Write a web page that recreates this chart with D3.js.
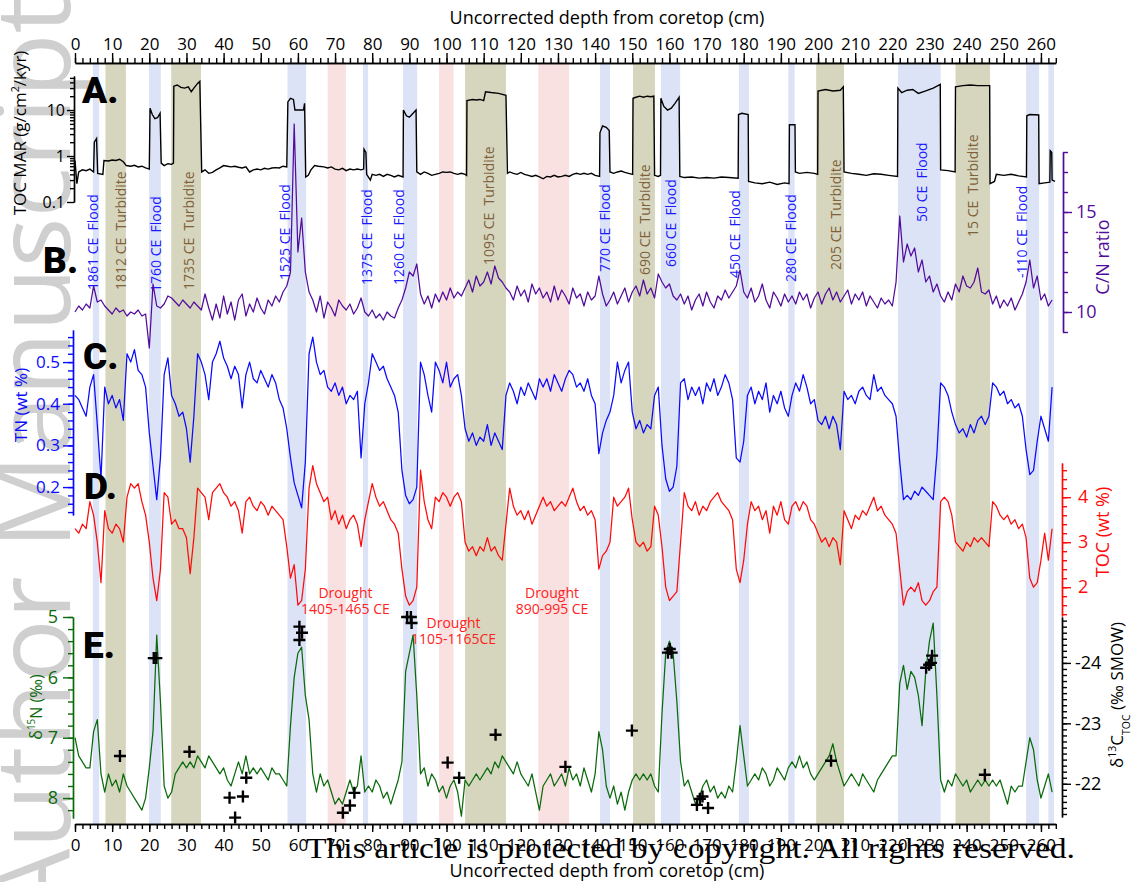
<!DOCTYPE html>
<html>
<head>
<meta charset="UTF-8">
<style>
  body { margin: 0; background: #fff; }
  svg { display: block; font-family: "Open Sans", sans-serif; }
</style>
</head>
<body>
<svg></svg>
<script src="https://d3js.org/d3.v7.min.js"></script>
<script>
// ---- data (depth in cm from core top) ----
// sampling grid for the down-core series, 1 cm steps 0..263
let depth = d3.range(0, 264);

let tn = [
  0.42,0.41,0.39,0.37,0.44,0.47,0.35,0.22,0.44,0.40,
  0.42,0.39,0.41,0.36,0.52,0.50,0.53,0.48,0.47,0.44,
  0.33,0.25,0.17,0.27,0.47,0.51,0.42,0.40,0.37,0.38,
  0.34,0.26,0.37,0.52,0.50,0.47,0.41,0.50,0.52,0.55,
  0.51,0.49,0.46,0.49,0.47,0.39,0.47,0.50,0.46,0.45,
  0.48,0.46,0.44,0.47,0.45,0.41,0.39,0.34,0.27,0.21,
  0.18,0.15,0.26,0.52,0.56,0.50,0.47,0.48,0.44,0.43,
  0.45,0.42,0.44,0.40,0.42,0.41,0.43,0.27,0.40,0.45,
  0.52,0.50,0.48,0.49,0.46,0.44,0.42,0.38,0.24,0.18,
  0.16,0.17,0.20,0.50,0.47,0.42,0.38,0.50,0.48,0.45,
  0.50,0.44,0.46,0.47,0.42,0.34,0.31,0.33,0.30,0.32,
  0.31,0.35,0.30,0.33,0.31,0.29,0.42,0.45,0.43,0.40,
  0.44,0.42,0.45,0.43,0.41,0.46,0.44,0.46,0.43,0.47,
  0.45,0.43,0.46,0.48,0.47,0.44,0.45,0.43,0.46,0.42,
  0.40,0.28,0.33,0.36,0.38,0.42,0.50,0.45,0.48,0.50,
  0.38,0.34,0.36,0.33,0.35,0.34,0.42,0.44,0.30,0.22,
  0.19,0.20,0.25,0.45,0.46,0.41,0.44,0.42,0.44,0.40,
  0.45,0.43,0.46,0.42,0.44,0.47,0.45,0.41,0.27,0.26,
  0.31,0.42,0.44,0.40,0.43,0.41,0.45,0.38,0.42,0.40,
  0.43,0.39,0.37,0.42,0.45,0.43,0.47,0.44,0.40,0.41,
  0.36,0.35,0.37,0.34,0.37,0.35,0.29,0.43,0.41,0.42,
  0.40,0.43,0.44,0.42,0.41,0.47,0.43,0.44,0.42,0.41,
  0.40,0.37,0.26,0.17,0.18,0.17,0.19,0.18,0.20,0.19,
  0.18,0.17,0.28,0.45,0.44,0.42,0.38,0.35,0.33,0.34,
  0.32,0.35,0.33,0.36,0.37,0.35,0.37,0.45,0.44,0.42,
  0.43,0.40,0.41,0.39,0.40,0.37,0.29,0.23,0.24,0.31,
  0.37,0.34,0.31,0.44
];

let toc = [
  3.3,3.2,3.4,3.3,3.9,3.6,3.0,2.1,3.7,3.3,
  3.2,3.4,3.3,3.0,4.0,4.3,4.2,4.3,3.9,3.6,
  3.0,2.2,1.7,2.4,4.1,4.0,3.4,3.5,3.3,3.3,
  3.1,2.3,3.1,4.2,4.1,4.0,3.5,4.1,4.2,4.3,
  4.1,4.0,3.8,3.9,3.7,3.2,3.9,4.0,3.8,3.7,
  3.9,3.8,3.6,3.8,3.7,3.6,3.5,2.9,2.2,2.5,
  1.6,1.7,2.4,4.2,4.7,4.3,4.1,3.9,4.0,3.5,
  3.7,3.4,3.6,3.3,3.5,3.6,3.4,2.9,3.5,3.9,
  4.3,4.0,3.8,3.9,3.7,3.5,3.4,3.2,2.4,1.8,
  1.6,1.7,2.0,4.6,3.9,3.5,3.3,4.0,3.9,4.1,
  4.0,3.8,4.0,4.1,3.9,3.0,2.8,2.9,2.7,2.9,
  2.8,3.1,2.8,2.9,2.7,2.6,3.4,4.2,3.8,3.6,
  3.7,3.5,3.7,3.4,3.6,3.8,4.0,3.8,3.9,3.7,
  3.8,3.9,3.8,4.0,4.2,3.9,3.7,3.8,3.6,3.7,
  3.5,2.4,2.7,2.8,3.0,4.0,3.8,3.9,4.0,4.2,
  3.5,3.0,2.9,3.0,2.8,2.9,3.8,3.6,2.9,2.0,
  1.7,1.8,1.9,3.0,4.1,3.8,3.7,3.9,3.6,3.8,
  3.7,3.9,4.0,4.1,3.9,3.8,3.7,3.5,2.4,2.1,
  2.6,3.4,3.9,3.7,3.8,3.5,3.7,3.2,3.8,3.6,
  3.9,3.5,3.4,3.8,3.9,3.7,3.9,3.8,3.5,3.4,
  3.2,3.0,3.1,2.9,3.1,3.0,2.5,3.7,3.5,3.3,
  3.6,3.5,3.7,3.6,3.8,4.0,3.7,3.8,3.6,3.5,
  3.4,3.2,2.4,1.6,1.9,2.0,1.9,2.1,1.7,1.6,
  1.7,1.9,2.0,3.9,4.0,3.9,3.6,3.0,2.9,2.8,
  3.0,2.9,3.1,3.0,3.1,3.0,2.9,3.9,3.8,3.6,
  3.5,3.6,3.4,3.5,3.3,3.4,3.1,2.2,2.0,2.1,
  2.6,3.2,2.6,3.3
];

let cn = [
  10.0,10.3,10.1,10.4,10.2,11.3,10.5,10.6,10.3,10.1,
  9.9,10.2,10.0,10.1,9.8,10.0,9.9,10.1,9.8,9.9,
  8.2,11.4,10.3,10.2,10.4,10.8,10.7,10.5,10.3,10.6,
  10.4,10.2,10.5,10.3,10.1,10.9,10.2,9.6,10.4,9.7,
  10.8,9.9,10.5,9.6,10.6,10.9,9.8,10.4,10.0,10.7,
  10.2,9.9,10.6,10.3,10.8,10.5,11.0,11.3,12.0,19.4,
  13.0,14.7,12.0,11.0,10.6,10.0,10.8,9.7,10.5,10.2,
  9.8,10.6,10.3,10.1,10.4,9.9,10.2,10.7,10.0,9.8,
  10.1,9.7,9.9,9.6,10.0,9.8,9.7,10.2,10.6,11.2,
  12.0,11.8,12.4,10.9,10.4,10.8,10.2,10.9,10.5,11.0,
  10.6,11.2,10.7,11.0,10.8,11.2,11.6,11.0,11.8,11.3,
  11.5,12.0,11.4,12.3,11.7,11.5,11.2,11.0,10.6,11.3,
  10.8,11.1,10.5,11.4,10.9,11.2,10.7,11.0,10.5,11.3,
  10.6,11.1,10.8,10.4,11.2,10.7,10.9,10.3,11.0,10.6,
  10.8,11.8,10.9,10.3,10.6,11.0,10.4,10.8,11.2,10.5,
  11.0,11.3,10.8,11.6,10.9,11.2,10.7,11.9,11.5,11.2,
  11.4,10.8,10.6,10.9,10.4,10.8,10.1,10.6,10.9,10.3,
  11.0,10.5,10.2,10.8,10.6,11.1,10.7,11.0,11.3,12.1,
  11.0,10.7,11.2,10.5,10.8,11.4,10.6,10.2,11.0,10.7,
  10.3,10.9,10.5,10.8,10.4,11.0,10.6,10.9,10.2,10.7,
  11.0,10.4,10.9,11.2,10.6,11.0,10.5,10.8,11.1,10.4,
  10.9,10.6,11.0,10.3,10.8,10.5,10.2,10.7,10.4,10.6,
  10.3,11.5,14.8,12.5,13.4,12.8,13.2,12.0,12.6,11.5,
  11.8,11.0,11.4,10.8,10.5,11.0,10.6,11.4,11.0,11.8,
  11.3,11.2,11.5,12.2,11.0,10.9,11.1,10.4,10.8,10.2,
  10.6,10.3,10.7,10.1,10.5,10.9,11.5,12.6,11.2,11.8,
  10.6,10.9,10.3,10.6
];

let d15n = [
  7.0,7.3,7.4,7.5,7.5,6.9,6.7,7.6,7.9,7.6,
  7.8,7.7,7.9,7.6,7.8,7.9,8.0,8.1,8.2,8.0,
  7.5,6.9,5.3,6.4,7.8,8.0,7.9,7.6,7.5,7.4,
  7.5,7.4,7.5,7.3,7.4,7.5,7.3,7.4,7.5,7.6,
  7.5,7.7,7.8,7.6,7.4,7.6,7.3,7.6,7.5,7.6,
  7.5,7.6,7.7,7.5,7.6,7.6,7.7,7.8,6.8,6.0,
  5.6,5.5,6.3,6.7,7.6,7.9,7.6,7.8,7.7,7.9,
  8.1,8.0,8.1,7.9,7.7,7.9,7.8,7.3,7.9,7.8,
  7.9,7.7,7.8,8.0,7.9,8.1,7.9,7.7,7.4,5.9,
  5.6,5.3,6.3,7.6,7.5,7.8,7.6,7.7,7.9,7.8,
  8.0,7.8,7.7,7.9,8.3,7.7,7.8,7.7,7.6,7.7,
  7.6,7.5,7.6,7.4,7.5,7.3,7.4,7.5,7.6,7.4,
  7.6,7.7,7.8,7.6,7.9,8.2,7.8,7.7,7.6,7.8,
  7.7,7.6,7.8,7.5,7.7,7.6,7.8,7.5,7.7,7.9,
  7.6,6.9,7.2,7.8,8.0,7.8,8.1,7.9,8.2,7.9,
  7.7,7.6,7.7,7.6,7.7,7.6,7.8,7.9,6.6,5.6,
  5.4,5.6,6.4,7.4,7.8,7.7,7.9,8.1,8.0,7.8,
  7.7,7.9,7.8,8.0,7.9,8.0,7.8,7.9,7.4,6.8,
  7.3,7.8,7.7,7.6,7.7,7.5,7.6,7.8,7.7,7.5,
  7.6,7.7,7.5,7.4,7.5,7.3,7.5,7.4,7.6,7.7,
  7.6,7.5,7.4,7.3,7.1,7.4,7.6,7.8,7.7,7.6,
  7.7,7.8,7.6,7.7,7.8,7.9,7.7,7.6,7.5,7.4,
  7.3,7.3,6.1,5.8,6.2,5.9,6.0,6.3,6.8,5.9,
  5.4,5.1,6.3,7.7,7.9,7.7,7.8,7.6,7.7,7.8,
  7.7,7.9,7.8,7.7,7.8,7.7,7.8,7.7,7.8,7.7,
  7.9,8.1,7.8,7.9,7.8,7.8,7.4,7.0,7.2,7.7,
  8.0,7.8,7.6,7.9
];

// TOC mass accumulation rate (step record, depth / value pairs)
let marDepth = [0,0.5,1,2,3,4,5,5.2,5.8,6.1,7.5,7.8,9,10,11,12,13,13.8,15,16,17,18,19,20,20.2,20.8,21.5,22.2,22.9,23.2,
  24,25,26,26.5,26.6,27.5,28.5,29.5,30.5,31.3,32,33,33.6,34.1,35,36,37,38,39,40,41,42,43,44,45,46,47,48,49,50,
  51,52,53,54,55,56,57,57.3,58,58.8,59.2,60.5,61.5,61.8,62.1,62.8,63.5,64.5,65.5,67,68,69,70,71,72,73,74,75,76,77,
  77.7,77.8,78.3,78.5,79.5,80,81,82,83,84,85,86,87,88.3,88.4,89.2,90,91,91.8,92,93,94,95,96,97,98,99,100,101,102,
  103,104,105,105.4,105.5,107,108,109,110,110.5,112,114,116,116.4,117,118,119,120,121,122,123,124,125,126,127,128,129,130,
  131,132,133,134,135,136,137,138,139,140,141.2,141.3,142,143,143.8,144,145,146,147,148,149,150.1,150.2,151,152,153,154,155,
  155.8,156,157,157.6,157.7,158.5,159.5,160.5,161.5,162.6,162.8,164,166,168,170,172,174,176,178.5,178.6,179.5,181.2,181.3,183,
  185,187,189,191,192.2,192.3,193.8,193.9,195,197,199,199.9,200,202,204,206,206.8,207,209,211,213,215,217,219,221.4,221.5,
  222.5,224,225.5,227,229,231,232.9,233,235,236.9,237,239,241,243,246.2,246.3,247.5,248,250,252,254,256.1,256.2,257,259.4,259.5,
  261,262.4,262.5,262.9,263,263.8];
let marValue = [0.8,0.25,0.45,0.5,0.48,0.52,0.45,2.0,2.4,0.42,0.4,0.8,0.78,0.82,0.8,0.85,0.75,0.62,0.6,0.63,0.58,0.6,0.55,0.52,11,8,6.5,6.8,8.5,0.7,
  0.62,0.68,0.66,0.7,33,35,31,30,32,25,30,38,42,0.45,0.5,0.42,0.44,0.5,0.55,0.62,0.6,0.58,0.6,0.57,0.55,0.58,0.45,0.5,0.52,0.5,
  0.54,0.52,0.55,0.56,0.55,0.6,0.58,15,18,17,10,10,10,14,0.35,0.38,0.5,0.62,0.6,0.58,0.55,0.58,0.52,0.5,0.54,0.48,0.52,0.5,0.52,0.5,
  0.52,1.4,1.2,0.4,0.3,0.4,0.38,0.4,0.36,0.4,0.38,0.35,0.38,0.35,10,7.5,7,8.5,10,0.45,0.4,0.45,0.42,0.38,0.4,0.42,0.45,0.44,0.45,0.42,
  0.4,0.42,0.4,0.38,16,17,16.5,17,16,25,24,23,21,0.42,0.45,0.42,0.4,0.44,0.4,0.38,0.36,0.38,0.35,0.32,0.36,0.35,0.38,0.35,
  0.36,0.38,0.36,0.4,0.42,0.4,0.42,0.4,0.42,0.38,0.36,3.2,4.5,4.2,3.6,0.45,0.42,0.45,0.47,0.44,0.42,0.4,18,19,20,19,20,19.5,
  20,0.38,0.36,0.38,18,12,10,11,14,19,0.36,0.34,0.35,0.33,0.34,0.33,0.35,0.34,0.33,8,8.5,8,0.28,0.26,
  0.25,0.27,0.24,0.26,0.25,4.8,4.8,0.45,0.42,0.44,0.42,0.4,26,28,26,27,32,0.45,0.42,0.4,0.38,0.41,0.4,0.38,0.36,30,
  24,27,28,23,26,30,36,0.5,0.48,0.45,32,34,35,34,34,0.25,0.28,0.4,0.38,0.4,0.37,0.35,7.5,8,7.8,0.25,
  0.26,0.27,1.3,1.2,0.3,0.28];

// discrete d13C(TOC) measurements
let crossDepth = [12.1,21.2,21.9,30.8,41.6,43.1,45.2,46.1,60.4,60.4,61.1,72.1,74.0,75.2,89.4,90.4,90.6,100.3,103.4,113.2,
  132.0,149.9,159.6,160.1,160.6,167.4,168.2,168.9,170.4,203.5,229.1,229.9,230.4,230.7,244.9];
let crossC13 = [-22.46,-24.08,-24.08,-22.53,-21.77,-21.44,-21.79,-22.10,-24.38,-24.60,-24.50,-21.52,-21.64,-21.85,-24.76,-24.76,-24.66,-22.35,-22.10,-22.81,
  -22.28,-22.88,-24.17,-24.23,-24.17,-21.65,-21.75,-21.79,-21.60,-22.38,-23.92,-23.97,-24.00,-24.12,-22.15];

// event layers [top, bottom] in cm
let floodBands = [[4.8,6.5],[19.9,23.1],[57.2,62.2],[77.5,78.9],[88.3,92.1],[141.3,144],[157.7,162.9],[178.7,181.4],[192,193.7],[221.5,233],[256,259.5],[262,263.5]];
let turbBands = [[8.2,13.7],[25.9,33.9],[105,116],[150.2,156.1],[199.5,207],[237,246.3]];
let droughtBands = [[68,72.9],[98,101.9],[124.7,133]];

let eventText = ["1861 CE  Flood","1812 CE  Turbidite","1760 CE  Flood","1735 CE  Turbidite","1525 CE  Flood","1375 CE  Flood","1260 CE  Flood",
  "1095 CE  Turbidite","770 CE  Flood","690 CE  Turbidite","660 CE  Flood","450 CE  Flood","280 CE  Flood","205 CE  Turbidite",
  "50 CE  Flood","15 CE  Turbidite","-110 CE  Flood"];
let eventKind = ["f","t","f","t","f","f","f","t","f","t","f","f","f","t","f","t","f"];
let eventDepth = [4.8,12.4,21.8,30.7,56.5,78.6,87.2,111.4,142.7,153.4,160.4,177.7,192.7,204.8,228,241.7,254.9];
let eventBase = [290,290,292,290,280,285,285,265,272,275,267,278,282,270,222,237,278];

let droughtLines = [["Drought","1405-1465 CE"],["Drought","1105-1165CE"],["Drought","890-995 CE"]];
let droughtDepth = [72.8,101.9,128.4];
let droughtBase = [598,628,598];

let depthTicks = d3.range(0, 261, 10);
let depthMinor = d3.range(0, 265, 2);

// ---- layout ----
let width = 1133, height = 882;
let svg = d3.select("svg").attr("width", width).attr("height", height);
svg.append("rect").attr("width", width).attr("height", height).attr("fill", "#fff");

let x = d3.scaleLinear().domain([0, 264]).range([75, 1055.8]);
let yMar = d3.scaleLog().domain([0.1, 55]).range([202, 76]);
let yCN = d3.scaleLinear().domain([9, 18]).range([332, 152]);
let yTN = d3.scaleLinear().domain([0.133, 0.577]).range([515, 330]);
let yTOC = d3.scaleLinear().domain([1.36, 4.76]).range([616, 463]);
let yN15 = d3.scaleLinear().domain([5, 8.33]).range([617, 818]);
let yC13 = d3.scaleLinear().domain([-24.76, -21.45]).range([617, 817]);

let purple = "#520c9c", blue = "#0a0aff", red = "#ff0a0a", green = "#0b6a0b";

// watermark
svg.append("text")
  .attr("transform", "translate(70,915) rotate(-90)")
  .attr("font-size", 105)
  .attr("fill", "#cfcfcf")
  .text("Author Manuscript");

// event bands
function bands(list, color) {
  svg.append("g").selectAll("rect").data(list).enter().append("rect")
    .attr("x", d => x(d[0]))
    .attr("width", d => x(d[1]) - x(d[0]))
    .attr("y", 62)
    .attr("height", 762)
    .attr("fill", color);
}
bands(droughtBands, "#fae1e1");
bands(floodBands, "#dde3f7");
bands(turbBands, "#d6d6bf");

// event labels
svg.append("g").selectAll("text").data(eventText).enter().append("text")
  .attr("transform", (d, i) => `translate(${x(eventDepth[i])},${eventBase[i]}) rotate(-90)`)
  .attr("dy", "0.35em")
  .attr("font-size", 14)
  .attr("fill", (d, i) => eventKind[i] == "f" ? "#1a1aff" : "#80613a")
  .style("white-space", "pre")
  .text(d => d);

droughtLines.forEach((lines, i) => {
  let t = svg.append("text")
    .attr("text-anchor", "middle")
    .attr("font-size", 14)
    .attr("fill", "#ff2222");
  lines.forEach((s, j) => {
    t.append("tspan").attr("x", x(droughtDepth[i])).attr("y", droughtBase[i] + j * 15.5).text(s);
  });
});

// series
function series(values, scale, color) {
  svg.append("path").datum(values)
    .attr("fill", "none")
    .attr("stroke", color)
    .attr("stroke-width", 1.25)
    .attr("stroke-linejoin", "round")
    .attr("d", d3.line().x((d, i) => x(depth[i])).y(d => scale(d)));
}
series(cn, yCN, purple);
series(tn, yTN, blue);
series(toc, yTOC, red);
series(d15n, yN15, green);

svg.append("path").datum(marValue)
  .attr("fill", "none")
  .attr("stroke", "#000")
  .attr("stroke-width", 1.4)
  .attr("d", d3.line().x((d, i) => x(marDepth[i])).y(d => yMar(d)));

svg.append("g").selectAll("path").data(crossC13).enter().append("path")
  .attr("transform", (d, i) => `translate(${x(crossDepth[i])},${yC13(d)})`)
  .attr("d", "M-6,0H6M0,-6V6")
  .attr("stroke", "#000")
  .attr("stroke-width", 2.4);

// axes
function drawAxis(axisFn, scale, tr, majors, minors, color, fmt, majLen, minLen, pad, fs) {
  let g = svg.append("g").attr("transform", tr);
  g.append("g").call(axisFn(scale).tickValues(minors).tickSize(minLen).tickFormat("").tickSizeOuter(0));
  g.append("g").call(axisFn(scale).tickValues(majors).tickSize(majLen).tickPadding(pad).tickFormat(fmt).tickSizeOuter(0));
  g.selectAll("path, line").attr("stroke", color).attr("stroke-width", 1.4);
  g.selectAll("text").attr("fill", color).attr("font-size", fs).attr("font-family", "Open Sans, sans-serif");
  return g;
}

drawAxis(d3.axisTop, x, "translate(0,63)", depthTicks, depthMinor, "#000", d => d, 10, 5, 3, 17);
drawAxis(d3.axisBottom, x, "translate(0,824)", depthTicks, depthMinor, "#000", d => d, 8, 5, 7, 17);

drawAxis(d3.axisLeft, yMar, "translate(74,0)", [0.1, 1, 10],
  [0.2,0.3,0.4,0.5,0.6,0.7,0.8,0.9,2,3,4,5,6,7,8,9,20,30,40,50], "#000", d => String(d), 7, 4, 2, 16);
drawAxis(d3.axisRight, yCN, "translate(1063,0)", [10, 15], d3.range(9, 18.5, 1), purple, d => d, 9, 5, 4, 18);
drawAxis(d3.axisLeft, yTN, "translate(73,0)", [0.2, 0.3, 0.4, 0.5], d3.range(0.14, 0.575, 0.02), blue, d3.format(".1f"), 10, 5, 3, 17);
drawAxis(d3.axisRight, yTOC, "translate(1062,0)", [2, 3, 4], d3.range(1.4, 4.75, 0.2), red, d => d, 9, 5, 7, 18);
drawAxis(d3.axisLeft, yN15, "translate(73,0)", [5, 6, 7, 8], d3.range(5, 8.33, 0.2), green, d => d, 10, 5, 5, 18);
drawAxis(d3.axisRight, yC13, "translate(1062,0)", [-24, -23, -22], d3.range(-24.7, -21.45, 0.1), "#000", d => String(d), 9, 5, 4, 18);

// axis titles
svg.append("text").attr("x", 607).attr("y", 24).attr("text-anchor", "middle").attr("font-size", 18)
  .text("Uncorrected depth from coretop (cm)");
svg.append("text").attr("x", 607).attr("y", 877).attr("text-anchor", "middle").attr("font-size", 18)
  .text("Uncorrected depth from coretop (cm)");

function vLabel(cx, cy, color, fs, parts) {
  let t = svg.append("text")
    .attr("transform", `translate(${cx},${cy}) rotate(-90)`)
    .attr("text-anchor", "middle")
    .attr("dy", "0.35em")
    .attr("font-size", fs)
    .attr("fill", color);
  parts.forEach(p => {
    let s = t.append("tspan").text(p[0]);
    if (p[1] == "sup") s.attr("font-size", fs * 0.62).attr("baseline-shift", "super");
    if (p[1] == "sub") s.attr("font-size", fs * 0.62).attr("baseline-shift", "sub");
  });
}
vLabel(20, 133, "#000", 17, [["TOC MAR (g/cm"], ["2", "sup"], ["/kyr)"]]);
vLabel(21, 405, blue, 17, [["TN (wt %)"]]);
vLabel(36, 707, green, 16, [["δ"], ["15", "sup"], ["N (‰)"]]);
vLabel(1103, 257, purple, 18, [["C/N ratio"]]);
vLabel(1103, 532, red, 18, [["TOC (wt %)"]]);
vLabel(1117, 695, "#000", 17, [["δ"], ["13", "sup"], ["C"], ["TOC", "sub"], [" (‰ SMOW)"]]);

// panel letters
let letters = [["A.", 82, 103], ["B.", 43, 273], ["C.", 83, 369], ["D.", 84, 499], ["E.", 83, 658]];
svg.append("g").selectAll("text").data(letters).enter().append("text")
  .attr("x", d => d[1]).attr("y", d => d[2])
  .attr("font-family", "Roboto, sans-serif")
  .attr("font-weight", 900)
  .attr("font-size", 37)
  .text(d => d[0]);

// copyright line
svg.append("text")
  .attr("x", 306).attr("y", 858)
  .attr("font-family", "Liberation Serif, serif")
  .attr("font-size", 30)
  .attr("textLength", 769)
  .attr("lengthAdjust", "spacingAndGlyphs")
  .text("This article is protected by copyright. All rights reserved.");
</script>
</body>
</html>
